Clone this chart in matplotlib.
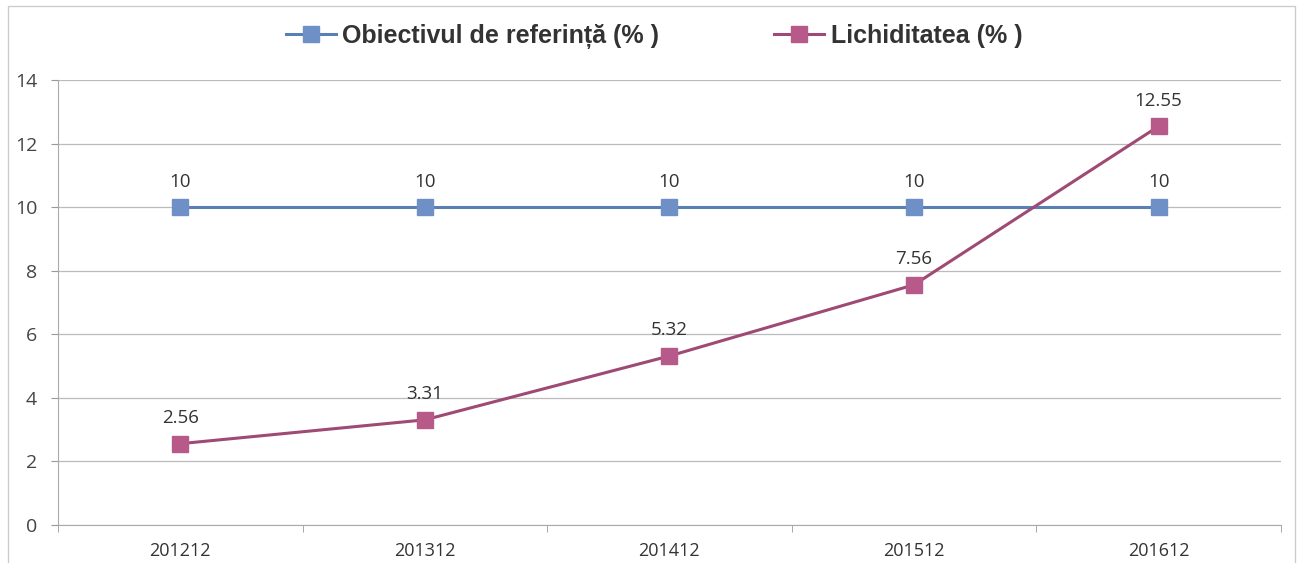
import matplotlib
matplotlib.use("Agg")
import matplotlib.pyplot as plt
from matplotlib.patches import Rectangle

# data
periods = ["201212", "201312", "201412", "201512", "201612"]
obiectiv = [10, 10, 10, 10, 10]
lichiditate = [2.56, 3.31, 5.32, 7.56, 12.55]
obiectiv_labels = ["10", "10", "10", "10", "10"]
lichiditate_labels = ["2.56", "3.31", "5.32", "7.56", "12.55"]

blue_line = "#5A7FB5"
blue_mark = "#6F90C6"
pink_line = "#9E4A74"
pink_mark = "#B75A8A"

fig = plt.figure(figsize=(13.03, 5.63), dpi=100)
ax = fig.add_axes([0.0445, 0.0675, 0.9385, 0.79])

x = list(range(len(periods)))
ax.plot(x, obiectiv, color=blue_line, lw=2.2, marker="s", ms=11,
        markerfacecolor=blue_mark, markeredgecolor=blue_mark,
        label="Obiectivul de referință (% )")
ax.plot(x, lichiditate, color=pink_line, lw=2.2, marker="s", ms=11,
        markerfacecolor=pink_mark, markeredgecolor=pink_mark,
        label="Lichiditatea (% )")

for xi, v, t in zip(x, obiectiv, obiectiv_labels):
    ax.annotate(t, (xi, v), xytext=(0, 12), textcoords="offset points",
                ha="center", va="bottom", fontsize=13.5, color="#333333",
                family="Open Sans")
for xi, v, t in zip(x, lichiditate, lichiditate_labels):
    ax.annotate(t, (xi, v), xytext=(0, 12), textcoords="offset points",
                ha="center", va="bottom", fontsize=13.5, color="#333333",
                family="Open Sans")

ax.set_xlim(-0.5, 4.5)
ax.set_ylim(0, 14)
ax.set_yticks(range(0, 15, 2))
ax.set_xticks(x)
ax.set_xticklabels(periods, family="Open Sans", fontsize=13, color="#333333")
ax.tick_params(axis="y", labelsize=14, labelcolor="#444444", length=5,
               color="#999999", pad=10)
ax.tick_params(axis="x", length=0, pad=12)
for lab in ax.get_yticklabels():
    lab.set_family("Open Sans")
# category separators below the x axis
ax.set_xticks([-0.5, 0.5, 1.5, 2.5, 3.5, 4.5], minor=True)
ax.tick_params(axis="x", which="minor", length=5, color="#999999")

ax.grid(axis="y", color="#BBBBBB", lw=0.9)
ax.set_axisbelow(True)
for s in ["top", "right"]:
    ax.spines[s].set_visible(False)
ax.spines["left"].set_color("#AAAAAA")
ax.spines["bottom"].set_color("#AAAAAA")

leg = fig.legend(loc="center", bbox_to_anchor=(0.502, 0.935), ncol=2,
                 frameon=False, columnspacing=4.6, handlelength=2.0,
                 handletextpad=0.25,
                 prop={"family": "Liberation Sans", "weight": "bold", "size": 18})
for t in leg.get_texts():
    t.set_color("#333333")

# faint outer frame of the chart area
fig.patches.append(Rectangle((0.006, -0.01), 0.988, 1.0, transform=fig.transFigure,
                             fill=False, edgecolor="#CCCCCC", lw=1))

fig.savefig("out.png", dpi=100)
